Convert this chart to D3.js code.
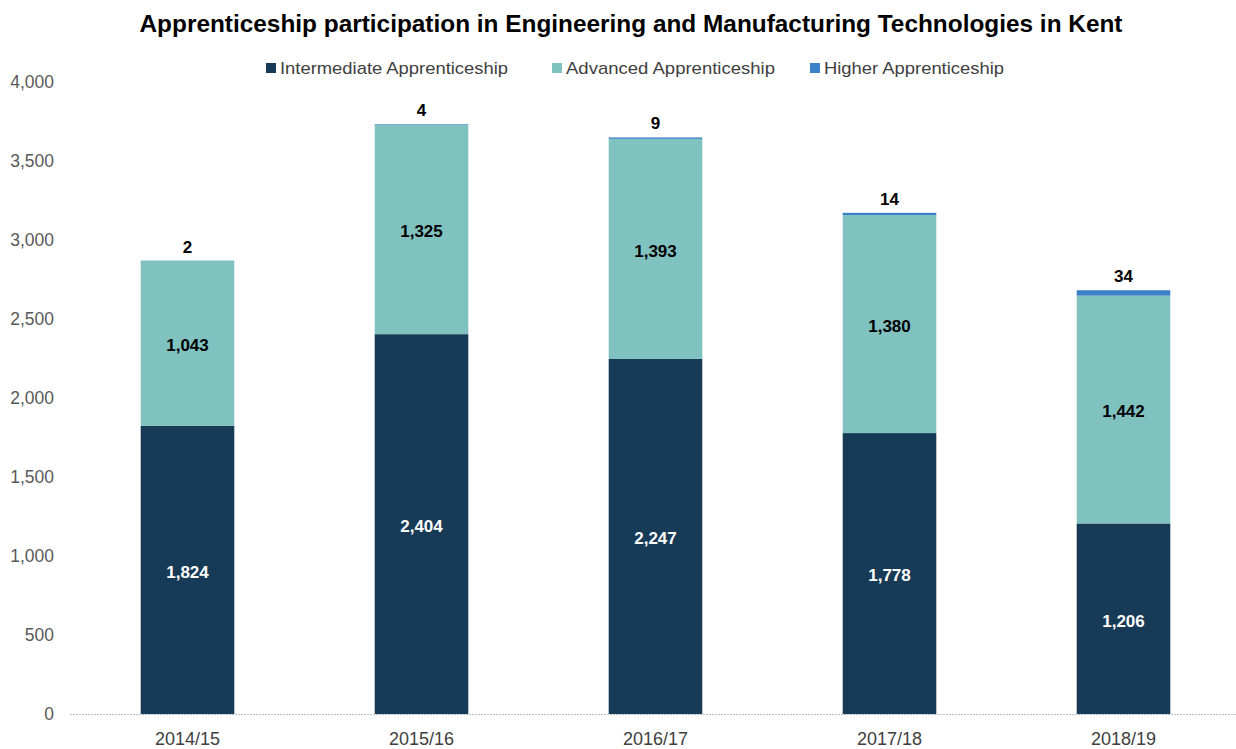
<!DOCTYPE html>
<html><head><meta charset="utf-8">
<script src="https://cdn.jsdelivr.net/npm/d3@7"></script>
<style>body{margin:0;background:#fff;font-family:"Liberation Sans",Arial,sans-serif;}</style>
</head><body>
<svg id="c" width="1236" height="749"></svg>
<script>
const years = ["2014/15","2015/16","2016/17","2017/18","2018/19"];
const intermediate = [1824,2404,2247,1778,1206];
const advanced = [1043,1325,1393,1380,1442];
const higher = [2,4,9,14,34];
const seriesNames = ["Intermediate Apprenticeship","Advanced Apprenticeship","Higher Apprenticeship"];
const colors = ["#173a56","#80c2c0","#3b80c8"];
const yTicks = [0,500,1000,1500,2000,2500,3000,3500,4000];

const svg = d3.select("#c");
const x = d3.scaleBand().domain(years).range([70.5,1240.5]).paddingInner(0.6).paddingOuter(0.3);
const y = d3.scaleLinear().domain([0,4000]).range([714,82]);

const rows = years.map((yr,i)=>({year:yr, Intermediate:intermediate[i], Advanced:advanced[i], Higher:higher[i]}));
const stack = d3.stack().keys(["Intermediate","Advanced","Higher"])(rows);

svg.append("text").attr("x",631).attr("y",32).attr("text-anchor","middle")
  .attr("font-size",23).attr("font-weight","bold").attr("fill","#000")
  .attr("textLength",983).attr("lengthAdjust","spacingAndGlyphs")
  .text("Apprenticeship participation in Engineering and Manufacturing Technologies in Kent");

// y axis labels
const yAxis = d3.axisLeft(y).tickValues(yTicks).tickFormat(d3.format(",")).tickSize(0).tickPadding(0);
const ga = svg.append("g").attr("transform","translate(54,0)").call(yAxis);
ga.select(".domain").remove();
ga.selectAll("text").attr("font-size",17.5).attr("fill","#595959").attr("font-family","Liberation Sans, Arial, sans-serif");

// baseline
svg.append("line").attr("x1",70).attr("x2",1236).attr("y1",y(0)+0.5).attr("y2",y(0)+0.5)
  .attr("stroke","#bfbfbf").attr("stroke-dasharray","2,1");

// x axis labels
const xAxis = d3.axisBottom(x).tickSize(0).tickPadding(18);
const gx = svg.append("g").attr("transform",`translate(0,${y(0)})`).call(xAxis);
gx.select(".domain").remove();
gx.selectAll("text").attr("font-size",18).attr("fill","#404040").attr("font-family","Liberation Sans, Arial, sans-serif");

stack.forEach((s,si)=>{
  svg.append("g").selectAll("rect").data(s).join("rect")
    .attr("x",d=>x(d.data.year)).attr("width",x.bandwidth())
    .attr("y",d=>y(d[1])).attr("height",d=>y(d[0])-y(d[1]))
    .attr("fill",colors[si]);
});

const fmt = d3.format(",");
// labels
svg.append("g").selectAll("text").data(stack[0]).join("text")
  .attr("x",d=>x(d.data.year)+x.bandwidth()/2).attr("y",d=>(y(d[0])+y(d[1]))/2+2).attr("dy","0.35em")
  .attr("text-anchor","middle").attr("font-size",17).attr("font-weight","bold").attr("fill","#fff")
  .text(d=>fmt(d[1]-d[0]));
svg.append("g").selectAll("text").data(stack[1]).join("text")
  .attr("x",d=>x(d.data.year)+x.bandwidth()/2).attr("y",d=>(y(d[0])+y(d[1]))/2+2).attr("dy","0.35em")
  .attr("text-anchor","middle").attr("font-size",17).attr("font-weight","bold").attr("fill","#000")
  .text(d=>fmt(d[1]-d[0]));
svg.append("g").selectAll("text").data(stack[2]).join("text")
  .attr("x",d=>x(d.data.year)+x.bandwidth()/2).attr("y",d=>y(d[1])-8)
  .attr("text-anchor","middle").attr("font-size",17).attr("font-weight","bold").attr("fill","#000")
  .text(d=>fmt(d[1]-d[0]));

// legend
const legX = [266,552,810];
const lg = svg.append("g");
seriesNames.forEach((n,i)=>{
  lg.append("rect").attr("x",legX[i]).attr("y",63).attr("width",10).attr("height",10).attr("fill",colors[i]);
  lg.append("text").attr("x",legX[i]+14).attr("y",74).attr("font-size",17).attr("fill","#404040")
    .attr("textLength", [228,209,180][i]).attr("lengthAdjust","spacingAndGlyphs").text(n);
});
</script>
</body></html>
